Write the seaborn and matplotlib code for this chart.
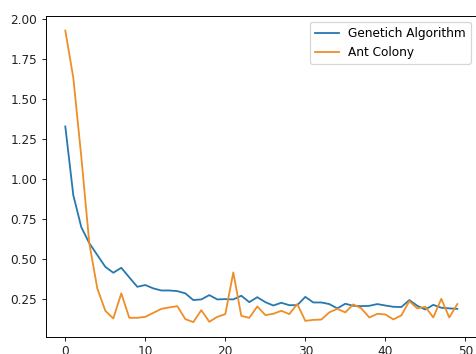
import numpy as np
import pandas as pd
import seaborn as sns
import matplotlib
matplotlib.use("Agg")
import matplotlib.pyplot as plt

# Best cost per iteration for each optimiser
iterations = list(range(50))
genetic = [1.33, 0.90, 0.70, 0.60, 0.526, 0.452, 0.415, 0.446, 0.386, 0.327,
           0.338, 0.317, 0.304, 0.304, 0.300, 0.286, 0.244, 0.248, 0.275, 0.248,
           0.250, 0.248, 0.271, 0.231, 0.262, 0.231, 0.210, 0.227, 0.212, 0.212,
           0.264, 0.229, 0.229, 0.219, 0.192, 0.221, 0.208, 0.206, 0.208, 0.219,
           0.210, 0.202, 0.200, 0.244, 0.208, 0.185, 0.214, 0.196, 0.192, 0.189]
ant_colony = [1.93, 1.635, 1.14, 0.60, 0.317, 0.177, 0.129, 0.286, 0.133, 0.133,
              0.139, 0.164, 0.189, 0.198, 0.206, 0.125, 0.106, 0.181, 0.108, 0.139,
              0.156, 0.417, 0.145, 0.133, 0.204, 0.150, 0.158, 0.177, 0.156, 0.219,
              0.114, 0.120, 0.122, 0.167, 0.189, 0.167, 0.217, 0.192, 0.135, 0.158,
              0.154, 0.123, 0.148, 0.237, 0.192, 0.202, 0.135, 0.252, 0.135, 0.219]
series_names = ["Genetich Algorithm", "Ant Colony"]
series_colors = ["#2878b0", "#ee8e27"]

df = pd.DataFrame({"iteration": iterations, series_names[0]: genetic,
                   series_names[1]: ant_colony})

dpi = 87
fig = plt.figure(figsize=(476 / dpi, 354 / dpi), dpi=dpi)
ax = fig.add_axes([45.7 / 476, 1 - 336.7 / 354, 431.2 / 476, 320.7 / 354])

for name, color in zip(series_names, series_colors):
    sns.lineplot(data=df, x="iteration", y=name, color=color, label=name, ax=ax)

ax.set_xlabel("")
ax.set_ylabel("")
ax.set_xticks([0, 10, 20, 30, 40, 50])
ax.set_yticks([0.25, 0.50, 0.75, 1.00, 1.25, 1.50, 1.75, 2.00])
ax.yaxis.set_major_formatter(matplotlib.ticker.FormatStrFormatter("%.2f"))
ax.tick_params(colors="#222222")
ax.legend(loc="upper right")

fig.savefig("out.png", dpi=dpi)
